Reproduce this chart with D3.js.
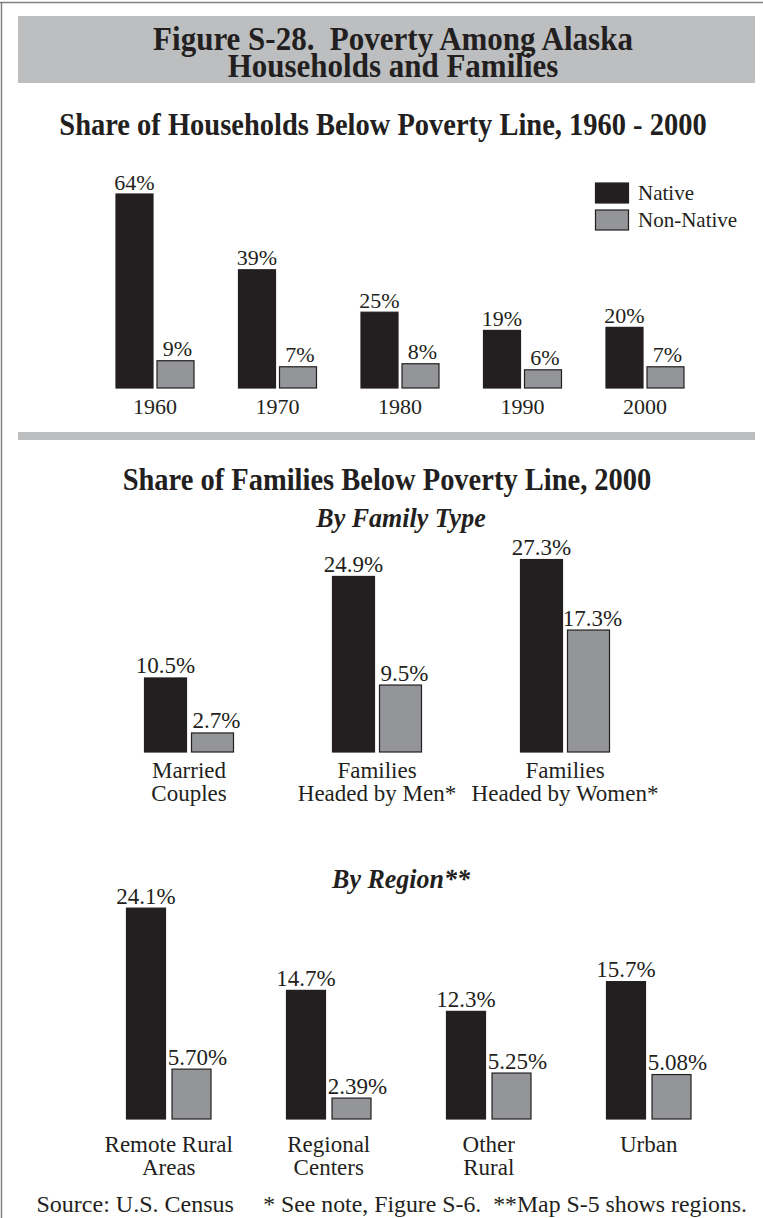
<!DOCTYPE html>
<html>
<head>
<meta charset="utf-8">
<script src="https://cdn.jsdelivr.net/npm/d3@7"></script>
<style>
  html, body { margin: 0; padding: 0; background: #fff; }
  svg { display: block; }
  text { font-family: "Liberation Serif", "Times New Roman", serif; fill: #231f20; white-space: pre; }
</style>
</head>
<body>
<svg id="chart" width="763" height="1218"></svg>
<script>
// ---------- DATA ----------
const titleLines = ["Figure S-28.  Poverty Among Alaska", "Households and Families"];
const series = ["Native", "Non-Native"];

const hhTitle = "Share of Households Below Poverty Line, 1960 - 2000";
const hhYears = ["1960", "1970", "1980", "1990", "2000"];
const hhNative = [64, 39, 25, 19, 20];
const hhNonNative = [9, 7, 8, 6, 7];

const famTitle = "Share of Families Below Poverty Line, 2000";
const famSubtitle = "By Family Type";
const famTypes = ["Married\nCouples", "Families\nHeaded by Men*", "Families\nHeaded by Women*"];
const famNative = [10.5, 24.9, 27.3];
const famNonNative = [2.7, 9.5, 17.3];

const regSubtitle = "By Region**";
const regions = ["Remote Rural\nAreas", "Regional\nCenters", "Other\nRural", "Urban"];
const regNative = [24.1, 14.7, 12.3, 15.7];
const regNonNative = [5.70, 2.39, 5.25, 5.08];

const sourceNote = "Source: U.S. Census";
const footNote = "* See note, Figure S-6.  **Map S-5 shows regions.";

// ---------- STYLE ----------
const INK = "#231f20";
const GREY = "#939598";
const BAND = "#bcbec0";
const colors = d3.scaleOrdinal().domain(series).range([INK, GREY]);

const svg = d3.select("#chart");

// frame
svg.append("line").attr("x1", 0).attr("x2", 763).attr("y1", 2.5).attr("y2", 2.5)
  .attr("stroke", "#808080").attr("stroke-width", 1.5);
svg.append("line").attr("x1", 1.5).attr("x2", 1.5).attr("y1", 2).attr("y2", 1218)
  .attr("stroke", "#808080").attr("stroke-width", 1.5);

// title banner
svg.append("rect").attr("x", 18).attr("y", 16).attr("width", 737).attr("height", 67).attr("fill", BAND);

// bold heading, slightly stretched vertically as in the original typesetting
function heading(txt, x, y, size, italic, k) {
  svg.append("text")
    .attr("transform", `translate(${x},${y}) scale(1,${k})`)
    .attr("text-anchor", "middle")
    .attr("font-weight", "bold").attr("font-size", size)
    .attr("font-style", italic ? "italic" : "normal").text(txt);
}

titleLines.forEach((t, i) => heading(t, 393, 50 + i * 27, 31, false, 1.1));

// separator
svg.append("rect").attr("x", 18).attr("y", 432).attr("width", 737).attr("height", 8).attr("fill", BAND);

heading(hhTitle, 383, 135, 28.5, false, 1.1);
heading(famTitle, 387, 490, 28.5, false, 1.1);
heading(famSubtitle, 401, 527, 26, true, 1.08);
heading(regSubtitle, 401, 888, 26, true, 1.08);

// generic grouped bar drawer
function groupedBars(opts) {
  const { cats, native, nonNative, x0, x1, y, fmt, labelSize, catSize, catDy, lineH, nnShift } = opts;
  const rows = cats.map((c, i) => ({ cat: c, vals: [
    { s: series[0], v: native[i] }, { s: series[1], v: nonNative[i] }] }));
  const g = svg.append("g");
  const grp = g.selectAll("g.grp").data(rows).join("g")
    .attr("transform", d => `translate(${x0(d.cat)},0)`);
  grp.selectAll("rect").data(d => d.vals).join("rect")
    .attr("x", d => x1(d.s))
    .attr("y", d => y(d.v))
    .attr("width", x1.bandwidth())
    .attr("height", d => y(0) - y(d.v))
    .attr("fill", d => colors(d.s))
    .attr("stroke", INK).attr("stroke-width", 1.2);
  grp.selectAll("text.val").data(d => d.vals).join("text")
    .attr("class", "val")
    .attr("x", d => x1(d.s) + x1.bandwidth() / 2 + (d.s === series[1] ? nnShift : 0))
    .attr("y", d => y(d.v) - 4.5)
    .attr("text-anchor", "middle")
    .attr("font-size", labelSize)
    .text(d => fmt[d.s](d.v) + "%");
  const lines = grp.selectAll("text.cat").data(d => d.cat.split("\n")).join("text")
    .attr("class", "cat")
    .attr("x", x0.bandwidth() / 2)
    .attr("y", (d, i) => y(0) + catDy + i * lineH)
    .attr("text-anchor", "middle")
    .attr("font-size", catSize)
    .text(d => d);
}

// ---- Households chart ----
{
  const x0 = d3.scaleBand().domain(hhYears).range([116, 684]).paddingInner(1 - 78 / 122.5).paddingOuter(0);
  const x1 = d3.scaleBand().domain(series).range([0, x0.bandwidth()]).paddingInner(4 / 41).paddingOuter(0);
  const y = d3.scaleLinear().domain([0, 64]).range([388, 194]);
  const f = d3.format("d");
  groupedBars({ cats: hhYears, native: hhNative, nonNative: hhNonNative, x0, x1, y,
    fmt: { "Native": f, "Non-Native": f }, labelSize: 22, catSize: 22, catDy: 26, lineH: 22, nnShift: 2 });

  // legend
  const lg = svg.append("g").attr("transform", "translate(595,183)");
  const li = lg.selectAll("g").data(series).join("g")
    .attr("transform", (d, i) => `translate(0,${i * 27})`);
  li.append("rect").attr("x", 0.5).attr("y", 0).attr("width", 33).attr("height", 20)
    .attr("fill", d => colors(d)).attr("stroke", INK).attr("stroke-width", 1.2);
  li.append("text").attr("x", 43).attr("y", 17).attr("font-size", 21).text(d => d);
}

// ---- Family type chart ----
{
  const x0 = d3.scaleBand().domain(famTypes).range([144.5, 609.5]).paddingInner(1 - 89 / 188).paddingOuter(0);
  const x1 = d3.scaleBand().domain(series).range([0, x0.bandwidth()]).paddingInner(5 / 47).paddingOuter(0);
  const y = d3.scaleLinear().domain([0, 27.3]).range([752, 752 - 27.3 * 7.05]);
  const f = d3.format(".1f");
  groupedBars({ cats: famTypes, native: famNative, nonNative: famNonNative, x0, x1, y,
    fmt: { "Native": f, "Non-Native": f }, labelSize: 23, catSize: 23, catDy: 26, lineH: 23, nnShift: 4 });
}

// ---- Region chart ----
{
  const x0 = d3.scaleBand().domain(regions).range([126.5, 691]).paddingInner(1 - 84.5 / 160).paddingOuter(0);
  const x1 = d3.scaleBand().domain(series).range([0, x0.bandwidth()]).paddingInner(6.5 / 45.5).paddingOuter(0);
  const y = d3.scaleLinear().domain([0, 24.1]).range([1119, 1119 - 24.1 * 8.75]);
  groupedBars({ cats: regions, native: regNative, nonNative: regNonNative, x0, x1, y,
    fmt: { "Native": d3.format(".1f"), "Non-Native": d3.format(".2f") },
    labelSize: 23, catSize: 23, catDy: 33, lineH: 23, nnShift: 6 });
}

// footer
svg.append("text").attr("x", 36.5).attr("y", 1212).attr("font-size", 24).text(sourceNote);
svg.append("text").attr("x", 747).attr("y", 1212).attr("text-anchor", "end").attr("font-size", 23.8).text(footNote);
</script>
</body>
</html>
